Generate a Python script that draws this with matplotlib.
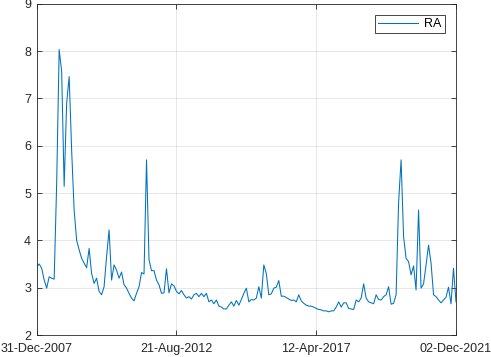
import numpy as np
import pandas as pd
import matplotlib
matplotlib.use("Agg")
import matplotlib.pyplot as plt

plt.rcParams["font.family"] = ["Liberation Sans", "DejaVu Sans"]

# RA series (roughly monthly)
ra_part1 = [3.44, 3.50, 3.41, 3.16, 2.99, 3.23, 3.20, 3.18, 5.20, 8.03,
            7.57, 5.14, 6.90, 7.46, 5.90, 4.64, 4.00, 3.80, 3.62, 3.52,
            3.42, 3.83, 3.30, 3.09, 3.20, 2.92, 2.85, 3.02]
ra_part2 = [3.66, 4.22, 3.16, 3.48, 3.37, 3.20, 3.33, 3.06, 2.99, 2.88,
            2.78, 2.72, 2.88, 3.02, 3.32, 3.29, 5.70, 3.59, 3.36, 3.36,
            3.16, 3.06, 2.88, 2.89, 3.40, 2.89]
ra_part3 = [3.08, 3.04, 2.92, 2.87, 2.94, 2.85, 2.78, 2.81, 2.76, 2.85,
            2.88, 2.81, 2.88, 2.81, 2.88, 2.70, 2.74, 2.66, 2.74, 2.61,
            2.59, 2.55, 2.55, 2.63, 2.70, 2.61, 2.73, 2.63, 2.75, 2.88]
ra_part4 = [2.99, 2.70, 2.75, 2.74, 2.78, 3.02, 2.78, 3.48, 3.30, 2.85,
            2.87, 2.99, 3.01, 3.15, 2.82, 2.82, 2.79, 2.76, 2.73, 2.74,
            2.70, 2.85, 2.72, 2.67, 2.63, 2.61, 2.61, 2.59, 2.56, 2.54]
ra_part5 = [2.53, 2.51, 2.51, 2.49, 2.51, 2.51, 2.59, 2.70, 2.59, 2.68,
            2.68, 2.56, 2.55, 2.54, 2.74, 2.70, 2.78, 3.08, 2.78, 2.70,
            2.68, 2.66, 2.85, 2.75, 2.74, 2.81]
ra_part6 = [2.85, 3.02, 2.65, 2.67, 2.85, 4.80, 5.70, 4.08, 3.62, 3.55,
            3.27, 3.46, 2.95, 4.64, 2.99, 3.08, 3.48, 3.90, 3.52, 2.85,
            2.81, 2.74, 2.68, 2.74, 2.80, 3.01, 2.66, 3.41, 2.70]
ra = ra_part1 + ra_part2 + ra_part3 + ra_part4 + ra_part5 + ra_part6

start_date = "2007-12-31"
end_date = "2021-12-02"
tick_dates = ["2007-12-31", "2012-08-21", "2017-04-12", "2021-12-02"]
y_ticks = [2, 3, 4, 5, 6, 7, 8, 9]

dates = pd.date_range(start_date, end_date, periods=len(ra))

#%% plot
fig = plt.figure(figsize=(4.91, 3.57), dpi=100)
ax = fig.add_axes([36.7 / 491, 22 / 357, 419.3 / 491, 331.3 / 357])

ax.plot(dates, ra, color="#0072BD", linewidth=0.75, label="RA")

ax.set_xlim(pd.Timestamp(start_date), pd.Timestamp(end_date))
ax.set_ylim(2, 9)
ticks = pd.to_datetime(tick_dates)
ax.set_xticks(ticks)
ax.set_xticklabels([t.strftime("%d-%b-%Y") for t in ticks])
ax.set_yticks(y_ticks)

ax.grid(True, color="#262626", alpha=0.13, linewidth=0.6)
ax.tick_params(direction="in", length=3.5, width=0.6, colors="#262626",
               labelsize=9, top=True, right=True, pad=4)
ax.tick_params(axis="x", pad=6)
for s in ax.spines.values():
    s.set_color("#262626")
    s.set_linewidth(0.6)

leg = ax.legend(loc="upper right", fontsize=9, fancybox=False,
                framealpha=1, edgecolor="#262626", handlelength=3.2,
                handletextpad=0.5, borderaxespad=0.9, borderpad=0.25)
leg.get_frame().set_linewidth(0.6)

fig.savefig("out.png", dpi=100)
